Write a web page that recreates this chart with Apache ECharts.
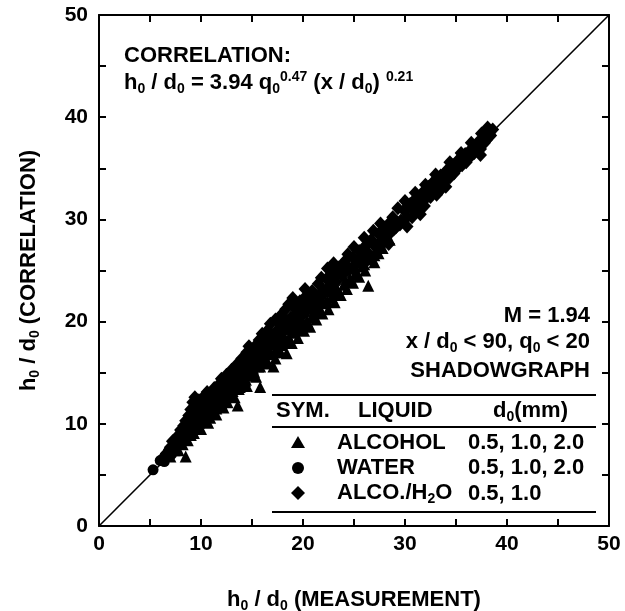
<!DOCTYPE html>
<html><head><meta charset="utf-8">
<script src="https://cdn.jsdelivr.net/npm/echarts@6/dist/echarts.min.js"></script>
<style>html,body{margin:0;padding:0;background:#fff}#c{width:625px;height:611px}</style>
</head><body><div id="c"></div>
<script>
// ---- data ----
const tickLabels = ['0', '10', '20', '30', '40', '50'];
const diagonal = [[0, 0], [50, 50]];
const water = [[5.3,5.5],[6.0,6.4],[6.4,6.3],[6.8,7.3],[7.1,7.0],[7.3,8.0],[7.6,7.7],[7.9,8.6],[8.1,8.2],[8.3,9.2],[8.6,8.8],[8.8,9.9],[9.0,9.4],[9.2,10.6],[9.4,9.9],[9.5,11.2],[9.7,10.4],[9.9,11.7],[10.1,10.9],[10.2,12.2],[10.4,11.4],[10.6,12.0],[10.8,12.8],[10.9,11.4],[11.1,12.5],[11.3,13.2],[11.4,11.9],[11.6,12.8],[11.8,13.6],[12.0,13.1],[12.1,12.4],[12.3,13.9],[12.5,13.5],[12.7,14.4],[12.9,13.1],[13.0,14.2],[13.2,15.1],[13.4,13.9],[13.6,14.9],[13.8,15.7],[14.0,14.6],[14.2,15.5],[14.4,16.3],[14.6,15.1],[14.8,16.0],[15.0,16.9],[15.2,15.8],[15.4,16.7],[15.6,17.5],[15.8,16.2],[16.0,17.3],[16.3,18.2],[16.5,17.0],[16.8,17.9],[17.0,18.8],[17.3,17.6],[17.5,18.5],[17.8,19.4],[18.0,18.3],[18.3,19.2],[18.6,20.2],[18.9,19.1],[19.2,20.0],[19.5,20.9],[19.8,19.8],[20.1,20.8],[20.4,21.7],[20.8,21.2],[21.2,22.3],[21.6,21.9],[22.0,23.0],
[8.9,10.4],[9.6,10.8],[10.4,12.0],[11.0,11.6],[11.7,13.2],[12.4,12.7],[13.1,13.7],[13.8,14.4],[14.5,15.8],[15.1,15.9],[15.8,17.0],[16.4,17.5],[17.1,18.0],[17.7,18.9],[18.4,19.8],[19.0,19.6],[19.7,20.5],[20.3,21.2],[21.0,21.7],[21.8,22.6],[22.4,22.9],[23.0,24.0]];
const alcohol = [[7.0,6.8],[7.4,7.4],[7.8,7.4],[8.2,8.0],[8.5,6.8],[8.7,8.4],[9.0,8.9],[9.3,9.1],[9.6,9.5],[9.8,10.1],[10.0,9.5],[10.3,10.2],[10.5,10.7],[10.7,10.1],[11.0,11.0],[11.2,11.5],[11.5,10.9],[11.7,11.8],[12.0,12.0],[12.2,11.6],[12.4,12.5],[12.6,12.1],[12.9,12.8],[13.1,13.2],[13.3,12.6],[13.6,11.8],[13.8,13.6],[14.0,13.9],[14.3,14.2],[14.5,13.7],[14.7,14.7],[14.9,14.9],[15.2,15.1],[15.4,14.6],[15.6,15.6],[15.8,13.6],[16.1,16.0],[16.3,16.4],[16.6,15.9],[16.8,16.8],[17.1,15.6],[17.3,16.4],[17.6,17.4],[17.8,17.0],[18.1,17.9],[18.4,16.9],[18.6,18.4],[18.9,17.9],[19.2,18.9],[19.5,18.4],[19.8,19.4],[20.1,19.1],[20.4,20.0],[20.7,19.5],[21.0,20.6],[21.3,20.2],[21.6,21.3],[21.9,20.8],[22.2,21.8],[22.5,21.2],[22.8,22.4],[23.1,21.9],[23.4,23.0],[23.7,22.6],[24.0,23.6],[24.3,23.2],[24.6,24.2],[24.9,23.8],[25.2,24.8],[25.5,24.4],[25.8,25.4],[26.1,25.0],[26.4,23.5],[26.7,26.1],[27.0,25.8],[27.4,26.7],[11.8,12.9],[13.0,14.2],[15.0,16.0],[17.0,17.8],[19.0,20.0],[21.0,21.8],[23.0,23.8],[25.0,25.8],
[9.4,9.5],[10.1,10.2],[10.9,10.6],[11.5,11.5],[12.3,12.2],[13.0,12.9],[13.7,13.4],[14.4,14.3],[15.1,15.4],[15.8,15.6],[16.4,16.2],[17.2,17.0],[17.9,17.7],[18.6,18.1],[19.3,19.2],[20.0,19.7],[20.8,20.4],[21.6,21.0],[22.4,22.0],[23.3,22.8],[24.2,23.9],[25.1,24.6],[26.0,25.6],[27.0,26.5],[27.8,27.2],[28.5,28.0]];
const alcoWater = [[6.2,6.6],[6.6,7.1],[7.0,7.7],[7.2,8.3],[7.5,8.1],[7.8,8.9],[8.0,9.4],[8.3,9.8],[8.5,10.3],[8.8,10.8],[9.0,11.4],[9.2,12.1],[9.4,12.6],[9.6,11.7],[9.8,12.3],
[10.0,11.2],[10.3,12.7],[10.6,13.1],[10.8,12.2],[11.0,13.0],[11.3,13.5],[11.5,12.6],[11.8,13.9],[12.0,14.4],[12.3,13.3],[12.5,14.8],[12.8,14.2],[13.0,15.3],[13.3,14.7],[13.5,15.8],[13.8,14.6],[14.0,16.4],[14.2,15.6],[14.5,17.0],[14.7,17.6],[14.9,16.2],
[15.2,17.5],[15.4,16.8],[15.7,18.2],[16.0,18.8],[16.2,17.4],[16.5,19.1],[16.8,19.8],[17.0,18.6],[17.3,20.2],[17.5,19.2],[17.8,20.6],[18.0,19.8],[18.3,21.2],[18.6,21.7],[18.8,20.4],[19.1,21.4],[19.4,20.9],[19.7,22.0],[20.0,21.2],
[20.3,22.5],[20.6,21.8],[20.9,23.0],[21.2,22.4],[21.5,23.7],[21.8,24.3],[22.0,23.1],[22.3,24.2],[22.6,23.0],[22.9,24.7],[23.2,23.9],[23.5,25.3],[23.8,24.5],[24.1,25.9],[24.4,26.6],[24.6,25.2],[24.9,26.3],
[25.2,25.6],[25.5,26.9],[25.8,26.1],[26.1,27.4],[26.4,26.7],[26.7,28.0],[26.9,28.9],[27.1,27.3],[27.4,28.6],[27.7,27.9],[28.0,29.2],[28.3,28.4],[28.6,29.8],[28.8,30.2],[29.1,29.2],[29.3,31.1],[29.6,29.9],[29.9,30.9],
[30.2,30.2],[30.5,31.5],[30.8,30.9],[31.1,32.1],[31.4,31.4],[31.7,32.6],[32.0,32.0],[32.3,33.2],[32.6,32.6],[32.9,33.8],[33.2,33.1],[33.5,34.3],[33.8,33.6],[34.1,34.8],[34.4,34.1],[34.7,35.3],
[35.0,34.8],[35.3,35.9],[35.6,35.3],[35.9,36.4],[36.2,35.9],[36.5,36.9],[36.8,36.5],[37.1,37.5],[37.4,36.9],[37.7,38.0],[38.0,37.8],[38.3,38.5],[38.6,38.8],[38.1,39.0],
[28.4,27.6],[30.2,29.3],[33.1,32.4],[37.4,36.3],[31.5,30.5],[34.0,33.2],
[10.2,10.6],[10.9,11.8],[11.6,12.3],[12.2,12.8],[12.9,13.6],[13.5,14.2],[14.1,14.9],[14.8,15.6],[15.5,16.4],[16.1,17.0],[16.7,17.6],[17.4,18.3],[18.0,19.0],[18.7,19.6],[19.3,20.3],[20.0,20.9],[20.6,21.5],[21.3,22.1],[21.9,22.8],[22.5,23.4],[23.2,23.0],[23.8,24.7],[24.4,25.1],[25.0,25.0],[25.7,26.3],[26.3,26.0],[27.0,27.6],[27.6,27.4],[28.2,29.0],[28.9,29.0],[29.5,29.5],[30.1,31.0],[30.7,30.2],[31.3,31.9],[31.9,31.3],[32.5,32.2],[33.0,33.5],[33.6,33.0],[34.2,34.4],[34.8,34.5],[35.4,35.6],[36.0,35.6],[36.6,36.6],[37.2,37.1],[37.8,37.5],[38.4,38.2],
[19.0,22.3],[20.2,23.2],[22.4,25.2],[23.0,25.7],[25.0,27.3],[26.0,28.2],[27.6,29.6],[30.0,31.8],[31.0,32.6],[32.0,33.4],[33.0,34.4],[34.4,35.6],[35.5,36.5],[36.5,37.5],[37.5,38.4]];

// ---- chart ----
const FONT = '"Liberation Sans", Arial, Helvetica, sans-serif';
const FS = 22;
const TF = 'bold 22px ' + FONT;
const rich = {
  n: {fontFamily: FONT, fontSize: FS, fontWeight: 'bold', color: '#000', lineHeight: 26, verticalAlign: 'middle'},
  s: {fontFamily: FONT, fontSize: 14, fontWeight: 'bold', color: '#000', lineHeight: 14, verticalAlign: 'bottom'},
  p: {fontFamily: FONT, fontSize: 14, fontWeight: 'bold', color: '#000', lineHeight: 14, verticalAlign: 'top'}
};
const chart = echarts.init(document.getElementById('c'), null, {renderer: 'canvas'});
const axisCommon = {
  type: 'value', min: 0, max: 50, interval: 5,
  axisLine: {show: true, onZero: false, lineStyle: {color: '#000', width: 2}},
  axisTick: {show: true, inside: true, length: 7, lineStyle: {color: '#000', width: 2}},
  splitLine: {show: false}
};
const labelFmt = v => (v % 10 === 0 ? tickLabels[v / 10] : '');
const labelStyle = {color: '#000', fontFamily: FONT, fontSize: 21, fontWeight: 'bold'};
chart.setOption({
  animation: false,
  backgroundColor: '#fff',
  grid: {left: 99, right: 16, top: 15, bottom: 85, containLabel: false, outerBoundsMode: 'none'},
  xAxis: [
    Object.assign({}, axisCommon, {position: 'bottom',
      axisLabel: Object.assign({show: true, margin: 8, formatter: labelFmt, showMinLabel: true, showMaxLabel: true}, labelStyle),
      name: '{n|h}{s|0}{n| / d}{s|0}{n| (MEASUREMENT)}', nameLocation: 'middle', nameGap: 61,
      nameTextStyle: {rich: rich}}),
    Object.assign({}, axisCommon, {position: 'top', axisLabel: {show: false}})
  ],
  yAxis: [
    Object.assign({}, axisCommon, {position: 'left',
      axisLabel: Object.assign({show: true, margin: 11, formatter: labelFmt, showMinLabel: true, showMaxLabel: true}, labelStyle),
      name: '{n|h}{s|0}{n| / d}{s|0}{n| (CORRELATION)}', nameLocation: 'middle', nameGap: 57, nameRotate: 90,
      nameTextStyle: {rich: rich}}),
    Object.assign({}, axisCommon, {position: 'right', axisLabel: {show: false}})
  ],
  series: [
    {type: 'line', data: diagonal, symbol: 'none', lineStyle: {color: '#000', width: 1.6}, silent: true, z: 1},
    {name: 'ALCOHOL', type: 'scatter', data: alcohol, symbol: 'triangle', symbolSize: 12, itemStyle: {color: '#000', opacity: 1}, z: 3},
    {name: 'WATER', type: 'scatter', data: water, symbol: 'circle', symbolSize: 11, itemStyle: {color: '#000', opacity: 1}, z: 3},
    {name: 'ALCO./H2O', type: 'scatter', data: alcoWater, symbol: 'diamond', symbolSize: [13, 14], itemStyle: {color: '#000', opacity: 1}, z: 3}
  ],
  graphic: [
    {type: 'text', left: 124, top: 45, style: {text: 'CORRELATION:', font: TF, fill: '#000'}},
    {type: 'text', left: 124, top: 70, style: {text: '{n|h}{s|0}{n| / d}{s|0}{n| = 3.94 q}{s|0}{p|0.47}{n| (x / d}{s|0}{n|) }{p|0.21}', rich: rich}},
    {type: 'text', x: 590, y: 316, style: {text: 'M = 1.94', font: TF, fill: '#000', align: 'right', verticalAlign: 'middle'}},
    {type: 'text', right: 35, top: 331, style: {text: '{n|x / d}{s|0}{n| < 90, q}{s|0}{n| < 20}', rich: rich, align: 'right'}},
    {type: 'text', x: 590, y: 371, style: {text: 'SHADOWGRAPH', font: TF, fill: '#000', align: 'right', verticalAlign: 'middle'}},
    {type: 'line', shape: {x1: 272, y1: 395, x2: 596, y2: 395}, style: {stroke: '#000', lineWidth: 2}},
    {type: 'text', x: 276, y: 411, style: {text: 'SYM.', font: TF, fill: '#000', verticalAlign: 'middle'}},
    {type: 'text', x: 358, y: 411, style: {text: 'LIQUID', font: TF, fill: '#000', verticalAlign: 'middle'}},
    {type: 'text', left: 493, top: 400, style: {text: '{n|d}{s|0}{n|(mm)}', rich: rich}},
    {type: 'line', shape: {x1: 272, y1: 427, x2: 596, y2: 427}, style: {stroke: '#000', lineWidth: 2}},
    {type: 'polygon', shape: {points: [[298, 436], [291, 448], [305, 448]]}, style: {fill: '#000'}},
    {type: 'circle', shape: {cx: 298, cy: 468, r: 6}, style: {fill: '#000'}},
    {type: 'polygon', shape: {points: [[298, 486], [305, 493], [298, 500], [291, 493]]}, style: {fill: '#000'}},
    {type: 'text', x: 337, y: 443, style: {text: 'ALCOHOL', font: TF, fill: '#000', verticalAlign: 'middle'}},
    {type: 'text', x: 337, y: 468, style: {text: 'WATER', font: TF, fill: '#000', verticalAlign: 'middle'}},
    {type: 'text', left: 337, top: 482, style: {text: '{n|ALCO./H}{s|2}{n|O}', rich: rich}},
    {type: 'text', x: 468, y: 443, style: {text: '0.5, 1.0, 2.0', font: TF, fill: '#000', verticalAlign: 'middle'}},
    {type: 'text', x: 468, y: 468, style: {text: '0.5, 1.0, 2.0', font: TF, fill: '#000', verticalAlign: 'middle'}},
    {type: 'text', x: 468, y: 494, style: {text: '0.5, 1.0', font: TF, fill: '#000', verticalAlign: 'middle'}},
    {type: 'line', shape: {x1: 272, y1: 512, x2: 596, y2: 512}, style: {stroke: '#000', lineWidth: 2}}
  ]
});
</script></body></html>
